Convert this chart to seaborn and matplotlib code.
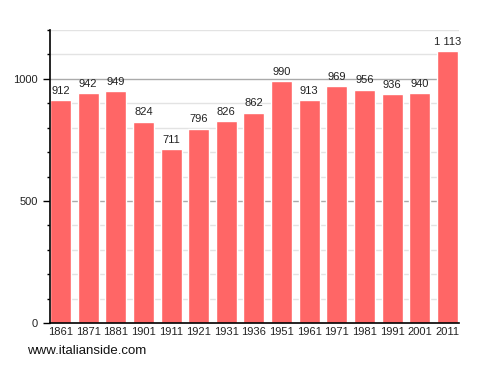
import matplotlib
matplotlib.use("Agg")
import matplotlib.pyplot as plt
import seaborn as sns
import pandas as pd
from matplotlib.ticker import MultipleLocator

years = ["1861", "1871", "1881", "1901", "1911", "1921", "1931", "1936",
         "1951", "1961", "1971", "1981", "1991", "2001", "2011"]
population = [912, 942, 949, 824, 711, 796, 826, 862, 990, 913, 969, 956, 936, 940, 1113]
value_labels = ["912", "942", "949", "824", "711", "796", "826", "862",
                "990", "913", "969", "956", "936", "940", "1 113"]
yticks = [0, 500, 1000]

df = pd.DataFrame({"year": years, "population": population})

sns.set_theme(style="white")
plt.rcParams["font.family"] = ["Liberation Sans", "DejaVu Sans"]

fig = plt.figure(figsize=(4.88, 3.73), dpi=100)
ax = fig.add_axes([50 / 488, 50 / 373, 409 / 488, 293 / 373])

sns.barplot(data=df, x="year", y="population", color="#ff6666", saturation=1,
            width=0.76, ax=ax, zorder=3)

ax.set_xlim(-0.38, 14.42)
ax.set_ylim(0, 1200)

# grid lines
for v in range(100, 1201, 100):
    if v % 500 == 0:
        ax.axhline(v, color="#aaaaaa", lw=1, zorder=1)
    else:
        ax.axhline(v, color="#e3e3e3", lw=1, zorder=1)

ax.set_yticks(yticks)
ax.set_yticklabels([str(t) for t in yticks], fontsize=8, color="#222222")
ax.yaxis.set_minor_locator(MultipleLocator(100))
ax.tick_params(axis="y", which="major", length=5, width=1, color="black", pad=4, left=True)
ax.tick_params(axis="y", which="minor", length=2.5, width=1, color="black", left=True)
ax.tick_params(axis="x", length=0, pad=3, labelsize=8, labelcolor="#222222")

for s in ["top", "right"]:
    ax.spines[s].set_visible(False)
for s in ["left", "bottom"]:
    ax.spines[s].set_color("black")
    ax.spines[s].set_linewidth(1.2)
    ax.spines[s].set_zorder(4)

ax.set_xlabel("")
ax.set_ylabel("")

for i, (v, lab) in enumerate(zip(population, value_labels)):
    ax.text(i, v + 18, lab, ha="center", va="bottom", fontsize=8, color="#222222", zorder=5)

fig.text(27 / 488, 1 - 351 / 373, "www.italianside.com", fontsize=9.5, color="#111111",
         ha="left", va="center")

fig.savefig("out.png", dpi=100)
